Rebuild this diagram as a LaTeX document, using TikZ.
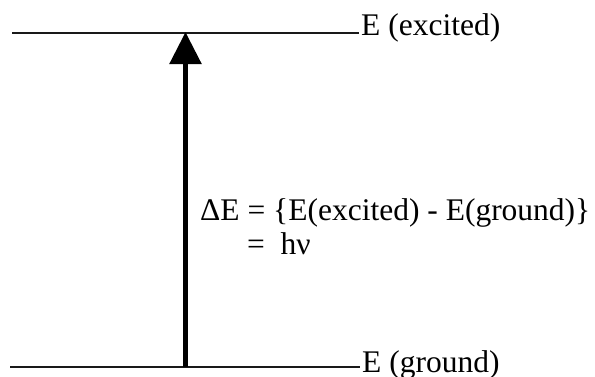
\documentclass[tikz,border=0pt]{standalone}
\usepackage{fontspec}
\setmainfont{Liberation Serif}
\usetikzlibrary{arrows.meta}
\begin{document}
\begin{tikzpicture}[x=1pt,y=-1pt,
  level/.style={line width=2.5pt, black!90},
  lab/.style={inner sep=0pt, anchor=base west, font=\fontsize{31.5}{34}\selectfont},
  transition/.style={line width=5.5pt, -{Triangle[width=31pt,length=32pt]}}]
\useasboundingbox (0,0) rectangle (595,376);
\coordinate (eL) at (12,33);
\coordinate (eR) at (359,33);
\coordinate (gL) at (10,367);
\coordinate (gR) at (360,367);
\coordinate (base) at (185.5,367);
\coordinate (tip) at (185.5,32);
\draw[level] (eL) -- (eR);
\draw[level] (gL) -- (gR);
\draw[transition] (base) -- (tip);
\node[lab] (exc) at (361,35) {E (excited)};
\node[lab] (gnd) at (362,372) {E (ground)};
\node[lab] (de) at (200,220) {ΔE = \{E(excited) - E(ground)\}};
\node[lab] (hv) at (247,254) {=~~hν};
\end{tikzpicture}
\end{document}
